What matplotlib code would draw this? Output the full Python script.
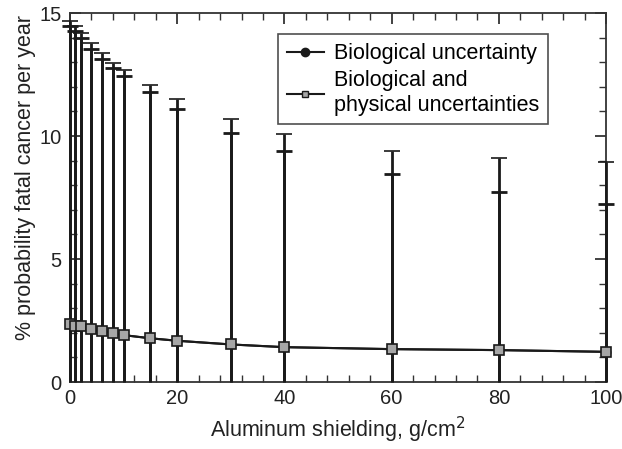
import matplotlib
matplotlib.use("Agg")
import matplotlib.pyplot as plt
import numpy as np
from matplotlib.ticker import MultipleLocator
from matplotlib.lines import Line2D

# shielding depth, g/cm2
shielding = [0, 1, 2, 4, 6, 8, 10, 15, 20, 30, 40, 60, 80, 100]
# mean % probability of fatal cancer per year
bio_mean = [2.36, 2.28, 2.28, 2.14, 2.07, 2.00, 1.91, 1.78, 1.68, 1.53, 1.42, 1.34, 1.30, 1.23]
both_mean = [2.36, 2.28, 2.28, 2.14, 2.07, 2.00, 1.91, 1.78, 1.68, 1.53, 1.42, 1.34, 1.30, 1.23]
# upper ends of the error bars
bio_upper = [14.46, 14.25, 14.00, 13.52, 13.12, 12.75, 12.44, 11.80, 11.09, 10.13, 9.40, 8.44, 7.71, 7.24]
both_upper = [14.66, 14.46, 14.20, 13.77, 13.39, 12.98, 12.68, 12.07, 11.49, 10.68, 10.08, 9.40, 9.12, 8.94]

plt.rcParams["font.family"] = ["Liberation Sans", "DejaVu Sans"]

fig = plt.figure(figsize=(6.22, 4.49), dpi=100)
ax = fig.add_axes([0.1125, 0.149, 0.862, 0.822])

x = np.array(shielding)
bm = np.array(bio_mean)
pm = np.array(both_mean)

ink = "#1a1a1a"
eb1 = ax.errorbar(x, bm, yerr=[bm, np.array(bio_upper) - bm], fmt="-o", color=ink,
                  ms=6, lw=1.5, elinewidth=2, capsize=5.5, capthick=2, zorder=2)
eb2 = ax.errorbar(x, pm, yerr=[pm, np.array(both_upper) - pm], fmt="-s", color=ink,
                  mfc="#a6a6a6", mec=ink, mew=1.2, ms=7, lw=1.5, elinewidth=2,
                  capsize=5.5, capthick=2, zorder=3)
for eb in (eb1, eb2):
    for art in eb.get_children():
        art.set_clip_on(False)
    # bars run down to the axis, no cap at the bottom
    eb[1][0].set_visible(False)

ax.set_xlim(0, 100)
ax.set_ylim(0, 15)
ax.xaxis.set_major_locator(MultipleLocator(20))
ax.xaxis.set_minor_locator(MultipleLocator(4))
ax.yaxis.set_major_locator(MultipleLocator(5))
ax.yaxis.set_minor_locator(MultipleLocator(1))
ax.tick_params(which="both", direction="in", top=True, right=True, colors="#333333",
               labelcolor="#222222")
ax.tick_params(which="major", length=8, width=1.3, labelsize=14.5)
ax.tick_params(which="minor", length=5, width=1)
ax.tick_params(axis="x", pad=5)
ax.tick_params(axis="y", pad=6)
for s in ax.spines.values():
    s.set_color("#333333")
    s.set_linewidth(1.3)

ax.set_xlabel("Aluminum shielding, g/cm$^2$", fontsize=15.5, color="#222222", labelpad=5)
ax.set_ylabel("% probability fatal cancer per year", fontsize=15.5, color="#222222")
ax.yaxis.set_label_coords(-0.064, 0.553)

handles = [
    Line2D([], [], color=ink, lw=1.5, marker="o", ms=6),
    Line2D([], [], color=ink, lw=1.5, marker="s", ms=5, mfc="#a6a6a6", mec=ink, mew=1),
]
labels = ["Biological uncertainty", "Biological and\nphysical uncertainties"]
leg = ax.legend(handles, labels, loc="upper right", bbox_to_anchor=(0.892, 0.942),
                fontsize=15.5, frameon=True, fancybox=False, edgecolor="#222222",
                handlelength=1.7, borderpad=0.4, labelspacing=0.3, handletextpad=0.5,
                borderaxespad=0)
leg.get_frame().set_linewidth(1.2)

fig.savefig("out.png", dpi=100)
